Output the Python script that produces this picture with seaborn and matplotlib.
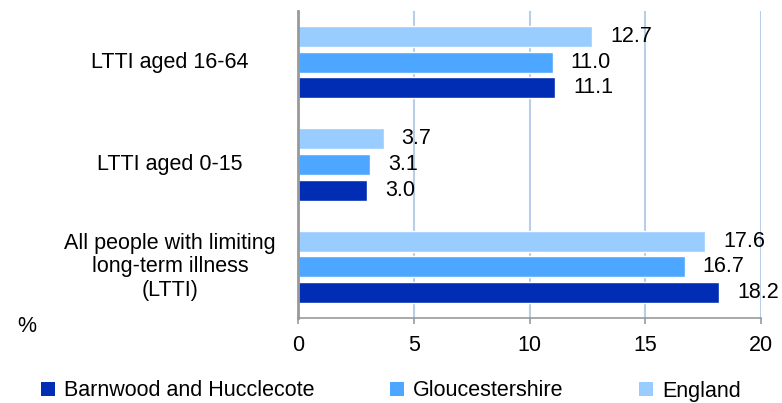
import pandas as pd
import matplotlib
matplotlib.use("Agg")
import matplotlib.pyplot as plt
import seaborn as sns
from matplotlib.patches import Patch
from matplotlib.transforms import blended_transform_factory

# =========================
# Data
# =========================

categories = [
    "LTTI aged 16-64",
    "LTTI aged 0-15",
    "All people with limiting\nlong-term illness\n(LTTI)",
]
areas = ["England", "Gloucestershire", "Barnwood and Hucclecote"]

england = [12.7, 3.7, 17.6]
gloucestershire = [11.0, 3.1, 16.7]
barnwood = [11.1, 3.0, 18.2]

colors = {
    "Barnwood and Hucclecote": "#002DB3",
    "Gloucestershire": "#4DA6FF",
    "England": "#99CCFF",
}

rows = []
for area, vals in zip(areas, [england, gloucestershire, barnwood]):
    for cat, v in zip(categories, vals):
        rows.append({"category": cat, "area": area, "value": v})
df = pd.DataFrame(rows)

# =========================
# Plot
# =========================

sns.set_style("white")
plt.rcParams["font.family"] = ["Liberation Sans", "DejaVu Sans"]
plt.rcParams["text.color"] = "black"
plt.rcParams["xtick.color"] = "black"

FS = 15.5

fig = plt.figure(figsize=(7.82, 4.03), dpi=100)
ax = fig.add_axes([298 / 782, 85 / 403, 463 / 782, 307 / 403])

sns.barplot(
    data=df,
    x="value",
    y="category",
    hue="area",
    order=categories,
    hue_order=areas,
    palette=colors,
    orient="h",
    width=0.75,
    gap=0.18,
    ax=ax,
    legend=False,
    saturation=1,
)

ax.set_xlim(0, 20)
ax.set_xticks([0, 5, 10, 15, 20])
ax.grid(axis="x", color="#B9CDE5", linewidth=1.5)
ax.set_axisbelow(True)
ax.set_xlabel("")
ax.set_ylabel("")

for side in ["top", "right"]:
    ax.spines[side].set_visible(False)
ax.spines["left"].set_color("#999999")
ax.spines["left"].set_linewidth(2)
ax.spines["bottom"].set_color("#999999")
ax.spines["bottom"].set_linewidth(1.2)

ax.tick_params(axis="x", direction="out", length=4, width=1.2, color="#999999",
               labelsize=FS, labelcolor="black", pad=8, bottom=True)
ax.tick_params(axis="y", left=False, labelleft=False)

# value labels
for container in ax.containers:
    ax.bar_label(container, fmt="%.1f", padding=13, fontsize=FS, color="black")

# category labels, centred
trans = blended_transform_factory(ax.transAxes, ax.transData)
for i, cat in enumerate(categories):
    ax.text(-0.2765, i, cat, transform=trans, ha="center", va="center",
            fontsize=FS, linespacing=1.15)

fig.text(17 / 782, 1 - 327 / 403, "%", fontsize=FS, ha="left", va="center")

# legend
legend_order = ["Barnwood and Hucclecote", "Gloucestershire", "England"]
handles = [Patch(facecolor=colors[a], edgecolor="none") for a in legend_order]
fig.legend(
    handles,
    legend_order,
    loc="center left",
    bbox_to_anchor=(41 / 782, 1 - 391 / 403),
    ncol=3,
    frameon=False,
    fontsize=FS,
    handlelength=0.65,
    handleheight=0.65,
    handletextpad=0.42,
    columnspacing=3.5,
    borderpad=0,
    borderaxespad=0,
)

plt.savefig("out.png", dpi=100)
